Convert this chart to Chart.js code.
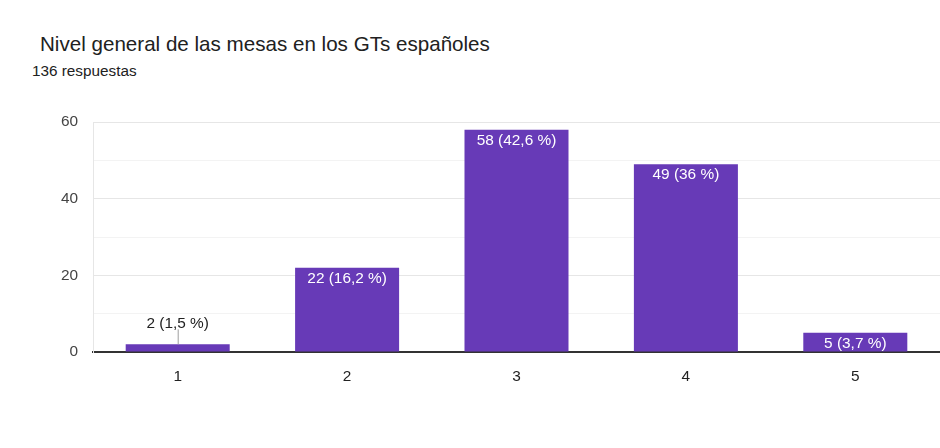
<!DOCTYPE html>
<html>
<head>
<meta charset="utf-8">
<script src="https://cdn.jsdelivr.net/npm/chart.js@4"></script>
<style>
  body { margin: 0; background: #fff; font-family: "Liberation Sans", Arial, sans-serif; }
  #wrap { position: relative; width: 940px; height: 448px; }
  #title { position: absolute; left: 40px; top: 32px; font-size: 20.6px; color: #212121; }
  #subtitle { position: absolute; left: 32px; top: 62px; font-size: 15.3px; color: #212121; }
  canvas { position: absolute; left: 0; top: 0; }
</style>
</head>
<body>
<div id="wrap">
  <div id="title">Nivel general de las mesas en los GTs españoles</div>
  <div id="subtitle">136 respuestas</div>
  <canvas id="chart" width="940" height="448"></canvas>
</div>
<script>
const categories = ['1', '2', '3', '4', '5'];
const counts = [2, 22, 58, 49, 5];
const totalResponses = 136;
const yTicks = [0, 20, 40, 60];

const FONT = '"Liberation Sans", Arial, sans-serif';
const FSIZE = 15.4;

// "58 (42,6 %)" style labels
const pctLabel = (v) => {
  let p = (v / totalResponses * 100).toFixed(1).replace('.', ',');
  if (p.endsWith(',0')) p = p.slice(0, -2);
  return v + ' (' + p + ' %)';
};

const barLabels = {
  id: 'barLabels',
  afterDatasetsDraw(chart) {
    const ctx = chart.ctx;
    const meta = chart.getDatasetMeta(0);
    ctx.save();
    ctx.font = FSIZE + 'px ' + FONT;
    ctx.textAlign = 'center';
    ctx.textBaseline = 'middle';
    meta.data.forEach((bar, i) => {
      const txt = pctLabel(counts[i]);
      const h = bar.base - bar.y;
      if (h < 14) {
        // too small: put label above with a leader line
        ctx.strokeStyle = '#9e9e9e';
        ctx.lineWidth = 1;
        ctx.beginPath();
        ctx.moveTo(bar.x + 0.5, bar.y);
        ctx.lineTo(bar.x + 0.5, bar.y - 15);
        ctx.stroke();
        ctx.fillStyle = '#222';
        ctx.fillText(txt, bar.x, bar.y - 21);
      } else {
        ctx.fillStyle = '#fff';
        ctx.fillText(txt, bar.x, bar.y + 11);
      }
    });
    ctx.restore();
  }
};

new Chart(document.getElementById('chart'), {
  type: 'bar',
  data: {
    labels: categories,
    datasets: [{
      data: counts,
      backgroundColor: '#673ab7',
      barPercentage: 0.614,
      categoryPercentage: 1
    }]
  },
  options: {
    responsive: false,
    animation: false,
    events: [],
    layout: { padding: { top: 122, left: 0, right: 0, bottom: 0 } },
    plugins: { legend: { display: false }, tooltip: { enabled: false } },
    scales: {
      x: {
        grid: { display: false },
        border: { display: true, color: '#333', width: 2 },
        ticks: { color: '#222', font: { size: FSIZE, family: FONT }, padding: 8 },
        afterFit: (s) => { s.height = 96; }
      },
      y: {
        min: 0,
        max: 60,
        ticks: {
          stepSize: 10,
          color: '#444',
          font: { size: FSIZE, family: FONT },
          padding: 15,
          callback: (v) => yTicks.includes(v) ? v : ''
        },
        grid: {
          drawTicks: false,
          color: (c) => yTicks.includes(c.tick.value) ? '#e6e6e6' : '#f3f3f3'
        },
        border: { display: true, color: '#e6e6e6' },
        afterFit: (s) => { s.width = 93; }
      }
    }
  },
  plugins: [barLabels]
});
</script>
</body>
</html>
